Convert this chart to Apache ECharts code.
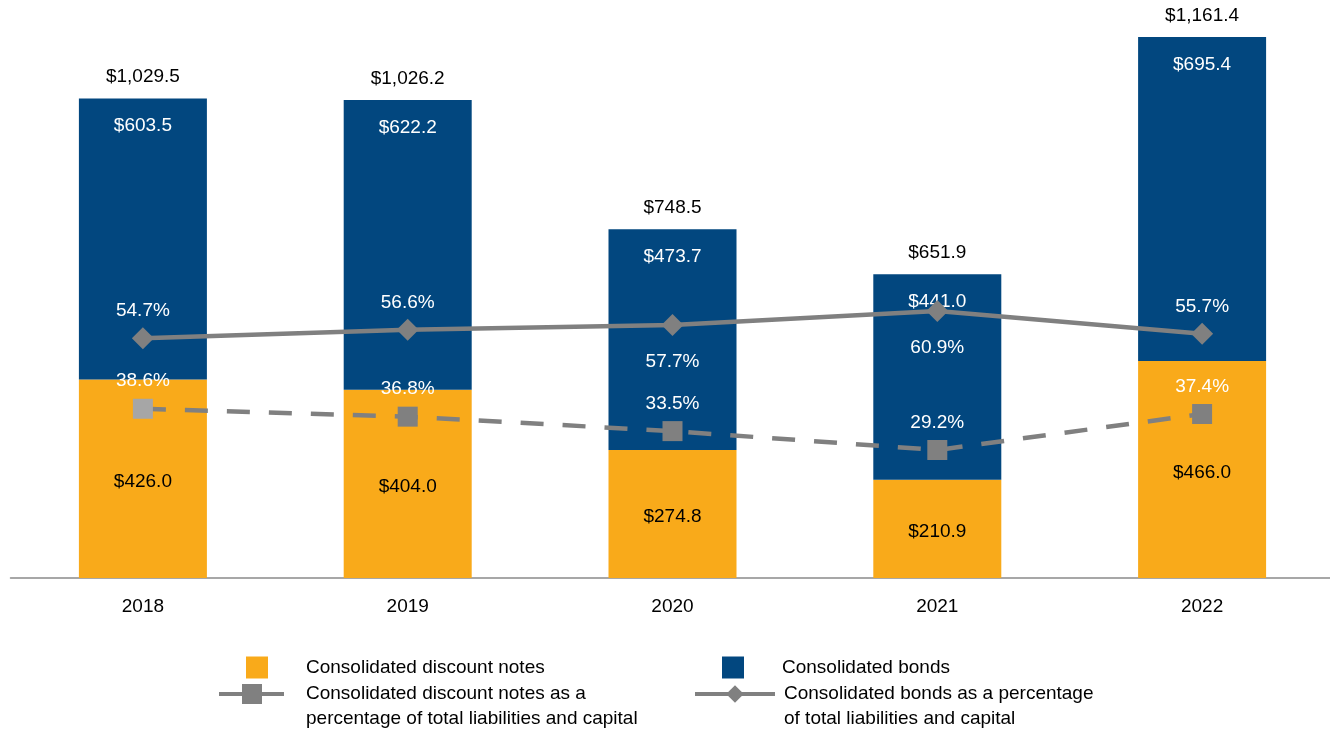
<!DOCTYPE html>
<html>
<head>
<meta charset="utf-8">
<script src="https://cdn.jsdelivr.net/npm/echarts@6/dist/echarts.min.js"></script>
<style>
  html, body { margin: 0; padding: 0; background: #fff; }
  #main { width: 1330px; height: 729px; }
</style>
</head>
<body>
<div id="main"></div>
<script>
// values in $ billions
var years = ['2018', '2019', '2020', '2021', '2022'];
var discountNotes = [426.0, 404.0, 274.8, 210.9, 466.0];
var bonds = [603.5, 622.2, 473.7, 441.0, 695.4];
var totals = [1029.5, 1026.2, 748.5, 651.9, 1161.4];
var discountPct = [38.6, 36.8, 33.5, 29.2, 37.4];
var bondsPct = [54.7, 56.6, 57.7, 60.9, 55.7];

var FONT = 'Liberation Sans';
var ORANGE = '#F9AA1A';
var NAVY = '#02477F';
var GREY = '#808080';

var N_DISC = 'Consolidated discount notes';
var N_BOND = 'Consolidated bonds';
var N_DISC_PCT = 'Consolidated discount notes as a percentage of total liabilities and capital';
var N_BOND_PCT = 'Consolidated bonds as a percentage of total liabilities and capital';

function money(v) {
  var s = v.toFixed(1).split('.');
  s[0] = s[0].replace(/\B(?=(\d{3})+(?!\d))/g, ',');
  return '$' + s.join('.');
}

// bonds % labels sit under the point for 2020 and 2021
var bondsPctData = bondsPct.map(function (v, i) {
  if (i === 2 || i === 3) {
    return { value: v, label: { position: 'bottom', distance: 16 } };
  }
  return v;
});
var discountPctData = discountPct.map(function (v, i) {
  if (i === 0) return { value: v, itemStyle: { color: '#A6A6A6' } };
  return v;
});

function legendBox(name, label, left, top, w, h, padLeft) {
  var isBar = (name === N_DISC || name === N_BOND);
  var lg = {
    data: [name],
    left: left,
    top: top,
    padding: 0,
    itemWidth: w,
    itemHeight: h,
    selectedMode: false,
    formatter: function () { return label; },
    textStyle: { fontFamily: FONT, fontSize: 19, color: '#000', lineHeight: 25, padding: [0, 0, 0, padLeft] }
  };
  if (isBar) lg.icon = 'rect';
  else lg.lineStyle = { width: 4 };
  return lg;
}

var myChart = echarts.init(document.getElementById('main'));
myChart.setOption({
  animation: false,
  textStyle: { fontFamily: FONT },
  grid: { left: 10.5, width: 1324, top: 19, bottom: 151, outerBoundsMode: 'none' },
  legend: [
    legendBox(N_DISC, 'Consolidated discount notes', 246, 655, 22, 22, 33),
    legendBox(N_BOND, 'Consolidated bonds', 722, 655, 22, 22, 33),
    // leading blank line keeps the icon level with the first text line
    legendBox(N_DISC_PCT, '\nConsolidated discount notes as a\npercentage of total liabilities and capital', 217, 656.5, 66, 25, 16),
    legendBox(N_BOND_PCT, '\nConsolidated bonds as a percentage\nof total liabilities and capital', 693, 656.5, 80, 22, 4)
  ],
  xAxis: {
    type: 'category',
    data: years,
    axisLine: { lineStyle: { color: '#8A8A8A', width: 1.5 } },
    axisTick: { alignWithLabel: true, length: 10, lineStyle: { color: '#8A8A8A', width: 1.5 } },
    axisLabel: { margin: 19, color: '#000', fontFamily: FONT, fontSize: 19 }
  },
  yAxis: [
    { type: 'value', min: 0, max: 1200, show: false, splitLine: { show: false } },
    { type: 'value', min: 0, max: 127.5, show: false, splitLine: { show: false } }
  ],
  series: [
    {
      name: N_DISC,
      type: 'bar',
      stack: 'total',
      barWidth: 128,
      itemStyle: { color: ORANGE },
      label: {
        show: true, position: 'inside', offset: [0, 3], color: '#000',
        fontFamily: FONT, fontSize: 19,
        formatter: function (p) { return money(p.value); }
      },
      data: discountNotes
    },
    {
      name: N_BOND,
      type: 'bar',
      stack: 'total',
      barWidth: 128,
      itemStyle: { color: NAVY },
      label: {
        show: true, position: 'insideTop', distance: 18, color: '#fff',
        fontFamily: FONT, fontSize: 19,
        formatter: function (p) { return money(p.value); }
      },
      data: bonds
    },
    {
      // zero-height cap on each stack, only carries the total label
      name: 'total',
      type: 'bar',
      stack: 'total',
      barWidth: 128,
      itemStyle: { color: 'transparent' },
      label: {
        show: true, position: 'top', distance: 12, color: '#000',
        fontFamily: FONT, fontSize: 19,
        formatter: function (p) { return money(totals[p.dataIndex]); }
      },
      data: totals.map(function () { return 0; })
    },
    {
      name: N_BOND_PCT,
      type: 'line',
      yAxisIndex: 1,
      symbol: 'diamond',
      symbolSize: [22, 22],
      z: 5,
      lineStyle: { color: GREY, width: 4.5 },
      itemStyle: { color: GREY },
      label: {
        show: true, position: 'top', distance: 7, color: '#fff',
        fontFamily: FONT, fontSize: 19,
        formatter: function (p) { return p.value.toFixed(1) + '%'; }
      },
      data: bondsPctData
    },
    {
      name: N_DISC_PCT,
      type: 'line',
      yAxisIndex: 1,
      symbol: 'rect',
      symbolSize: 20,
      z: 5,
      lineStyle: { color: GREY, width: 4.5, type: [23, 19] },
      itemStyle: { color: GREY },
      label: {
        show: true, position: 'top', distance: 8, color: '#fff',
        fontFamily: FONT, fontSize: 19,
        formatter: function (p) { return p.value.toFixed(1) + '%'; }
      },
      data: discountPctData
    }
  ]
});
</script>
</body>
</html>
